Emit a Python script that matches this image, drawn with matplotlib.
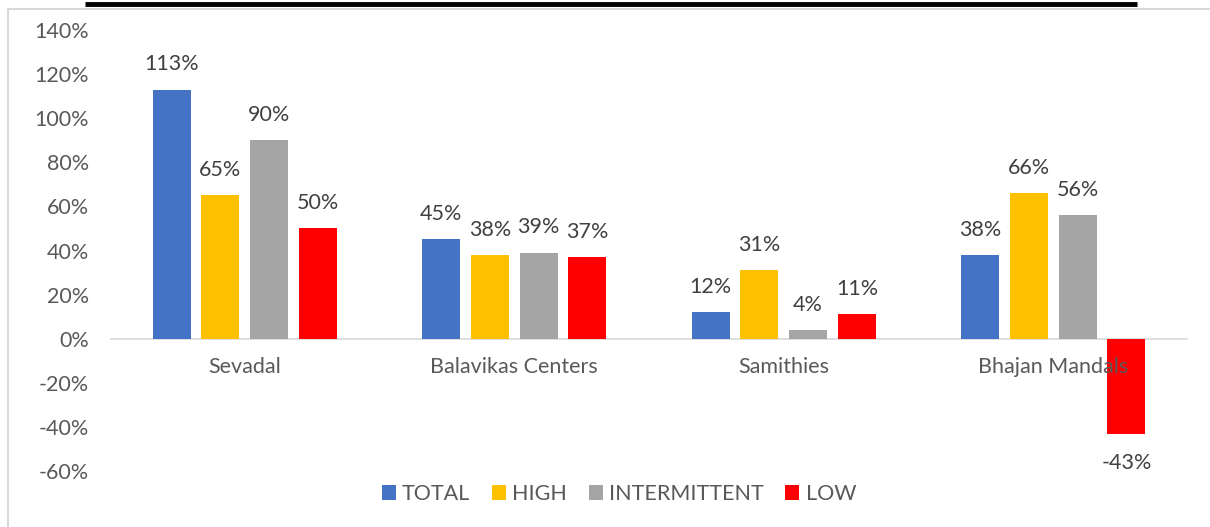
import matplotlib
matplotlib.use('Agg')
import matplotlib.pyplot as plt
from matplotlib.patches import Rectangle
from matplotlib.lines import Line2D
import numpy as np

categories = ["Sevadal", "Balavikas Centers", "Samithies", "Bhajan Mandals"]
series_names = ["TOTAL", "HIGH", "INTERMITTENT", "LOW"]
total = [113, 45, 12, 38]
high = [65, 38, 31, 66]
intermittent = [90, 39, 4, 56]
low = [50, 37, 11, -43]
y_ticks = [140, 120, 100, 80, 60, 40, 20, 0, -20, -40, -60]

colors = ["#4472c4", "#ffc000", "#a5a5a5", "#ff0000"]
text_color = "#595959"
fs = 15.5
plt.rcParams['font.family'] = ['Lato', 'DejaVu Sans']

fig = plt.figure(figsize=(12.1, 5.27), dpi=100)
W, H = 1210, 527

# chart border and the black rule above it
fig.patches.append(Rectangle((8 / W, -0.05), 1.2, 1 - 9 / H + 0.05,
                             transform=fig.transFigure, fill=False,
                             edgecolor="#d9d9d9", linewidth=1.5))
fig.lines.append(Line2D([85 / W, 1137 / W], [1 - 4 / H, 1 - 4 / H],
                        transform=fig.transFigure, color="black",
                        linewidth=3.5, solid_capstyle="butt"))

ax = fig.add_axes([110 / W, 1 - 471 / H, 1078 / W, 441 / H])
x = np.arange(len(categories))
width = 0.141
step = 0.181
for i, (name, vals) in enumerate(zip(series_names, [total, high, intermittent, low])):
    pos = x + (i - 1.5) * step
    ax.bar(pos, vals, width, color=colors[i], label=name, zorder=2)
    for px, v in zip(pos, vals):
        if v >= 0:
            ax.annotate("{}%".format(v), (px, v), xytext=(0, 11),
                        textcoords="offset points", ha="center", va="bottom",
                        fontsize=fs, color="#404040")
        else:
            ax.annotate("{}%".format(v), (px, v), xytext=(0, -14),
                        textcoords="offset points", ha="center", va="top",
                        fontsize=fs, color="#404040")

ax.axhline(0, color="#d9d9d9", linewidth=1.2, zorder=1)
ax.set_xlim(-0.5, 3.5)
ax.set_ylim(-60, 140)
ax.set_yticks(y_ticks)
ax.set_yticklabels(["{}%".format(t) for t in y_ticks])
ax.tick_params(axis="y", length=0, labelsize=fs, labelcolor=text_color, pad=15)
ax.set_xticks([])
for s in ax.spines.values():
    s.set_visible(False)

# category names sit just below the zero line, drawn over the bars
for xi, c in zip(x, categories):
    ax.annotate(c, (xi, 0), xytext=(0, -13), textcoords="offset points",
                ha="center", va="top", fontsize=fs, color=text_color, zorder=3)

ax.legend(loc="center", bbox_to_anchor=(0.5 + (619 - 649) / 1078, -0.052),
          ncol=4, frameon=False, fontsize=fs, labelcolor=text_color,
          handlelength=0.65, handleheight=0.65, handletextpad=0.3,
          columnspacing=1.0)

fig.savefig("out.png", dpi=100)
